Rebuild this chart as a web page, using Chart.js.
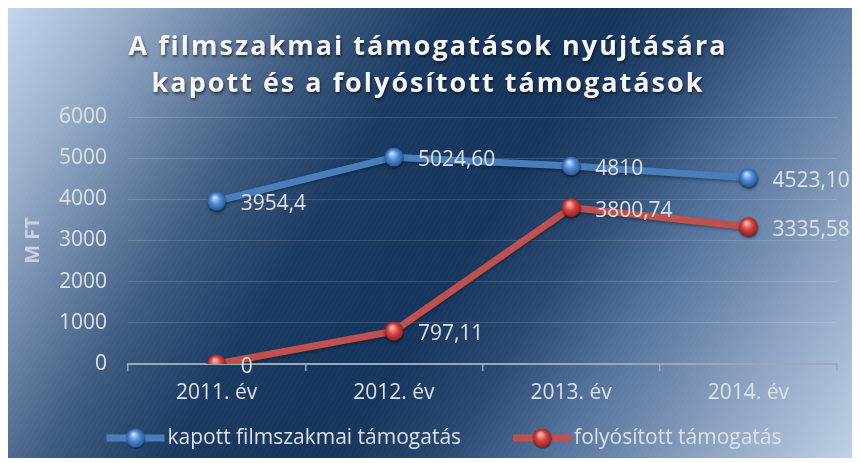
<!DOCTYPE html>
<html>
<head>
<meta charset="utf-8">
<script src="https://cdn.jsdelivr.net/npm/chart.js@4.4.1/dist/chart.umd.min.js"></script>
<style>
html, body { margin: 0; padding: 0; background: #fff; }
</style>
</head>
<body>
<canvas id="myChart" width="860" height="463"></canvas>
<script>
// Chart data
const years = ['2011. év', '2012. év', '2013. év', '2014. év'];
const kapott = [3954.4, 5024.6, 4810, 4523.1];
const folyositott = [0, 797.11, 3800.74, 3335.58];
const kapottLabels = ['3954,4', '5024,60', '4810', '4523,10'];
const folyositottLabels = ['0', '797,11', '3800,74', '3335,58'];
const seriesNames = ['kapott filmszakmai támogatás', 'folyósított támogatás'];
const titleLines = ['A filmszakmai támogatások nyújtására', 'kapott és a folyósított támogatások'];
const yMin = 0, yMax = 6000, yStep = 1000;

const FONT = '"Open Sans", "DejaVu Sans", sans-serif';
const TEXT = '#dde2e9';

// little shiny balls used as point markers
function makeBall(light, mid, dark) {
    const c = document.createElement('canvas');
    c.width = 26; c.height = 26;
    const g = c.getContext('2d');
    g.beginPath();
    g.arc(13.5, 14.5, 9.5, 0, Math.PI * 2);
    g.fillStyle = 'rgba(0,0,0,0.35)';
    g.fill();
    const grad = g.createRadialGradient(11, 9, 0.5, 13, 13, 10);
    grad.addColorStop(0, light);
    grad.addColorStop(0.5, mid);
    grad.addColorStop(1, dark);
    g.beginPath();
    g.arc(13, 13, 9.5, 0, Math.PI * 2);
    g.fillStyle = grad;
    g.fill();
    return c;
}
const blueBall = makeBall('#c9defa', '#4b8ad6', '#24548f');
const redBall = makeBall('#fbc3c1', '#d9423e', '#8a201e');

// background gradient + faint diagonal stripes
const backgroundPlugin = {
    id: 'bg',
    beforeDraw(chart) {
        const ctx = chart.ctx;
        ctx.save();
        ctx.fillStyle = '#ffffff';
        ctx.fillRect(0, 0, chart.width, chart.height);
        const grad = ctx.createLinearGradient(0, 0, 818, 511);
        grad.addColorStop(0, '#c6d9f1');
        grad.addColorStop(0.11, '#9cb2cc');
        grad.addColorStop(0.2, '#6e87a8');
        grad.addColorStop(0.29, '#3e5b80');
        grad.addColorStop(0.4, '#1b3a62');
        grad.addColorStop(0.5, '#17365d');
        grad.addColorStop(0.55, '#17365d');
        grad.addColorStop(0.64, '#2a4870');
        grad.addColorStop(0.73, '#51709a');
        grad.addColorStop(0.86, '#8aa0bf');
        grad.addColorStop(1, '#bdd0e6');
        ctx.fillStyle = grad;
        ctx.fillRect(8, 8, 844, 450);
        ctx.beginPath();
        ctx.rect(8, 8, 844, 450);
        ctx.clip();
        ctx.strokeStyle = 'rgba(255,255,255,0.035)';
        ctx.lineWidth = 1;
        for (let x = -300; x < 900; x += 5) {
            ctx.beginPath();
            ctx.moveTo(x, 463);
            ctx.lineTo(x + 270, 0);
            ctx.stroke();
        }
        ctx.restore();
    }
};

// title with letter spacing and shadow
const titlePlugin = {
    id: 'bigTitle',
    afterDraw(chart) {
        const ctx = chart.ctx;
        ctx.save();
        ctx.font = 'bold 27px ' + FONT;
        ctx.letterSpacing = '2px';
        ctx.textAlign = 'center';
        ctx.textBaseline = 'alphabetic';
        ctx.fillStyle = '#f4f6f9';
        ctx.shadowColor = 'rgba(0,0,0,0.55)';
        ctx.shadowBlur = 3;
        ctx.shadowOffsetX = 1;
        ctx.shadowOffsetY = 2;
        ctx.fillText(titleLines[0], 428, 55);
        ctx.fillText(titleLines[1], 428, 92);
        ctx.restore();
    }
};

// value labels next to the points
const valueLabelPlugin = {
    id: 'valueLabels',
    afterDatasetsDraw(chart) {
        const ctx = chart.ctx;
        const texts = [kapottLabels, folyositottLabels];
        ctx.save();
        ctx.font = '21px ' + FONT;
        ctx.fillStyle = TEXT;
        ctx.textAlign = 'left';
        ctx.textBaseline = 'middle';
        chart.data.datasets.forEach((ds, i) => {
            chart.getDatasetMeta(i).data.forEach((pt, j) => {
                ctx.fillText(texts[i][j], pt.x + 24, pt.y + 3);
            });
        });
        ctx.restore();
    }
};

// line shadow
const shadowPlugin = {
    id: 'lineShadow',
    beforeDatasetsDraw(chart) {
        const ctx = chart.ctx;
        ctx.save();
        ctx.shadowColor = 'rgba(0,0,0,0.3)';
        ctx.shadowBlur = 3;
        ctx.shadowOffsetY = 2;
    },
    afterDatasetsDraw(chart) {
        chart.ctx.restore();
    }
};

// legend at the bottom
const legendPlugin = {
    id: 'customLegend',
    afterDraw(chart) {
        const ctx = chart.ctx;
        const items = [
            { text: seriesNames[0], color: '#4a7ebb', ball: blueBall },
            { text: seriesNames[1], color: '#c0504d', ball: redBall }
        ];
        ctx.save();
        ctx.font = '21px ' + FONT;
        const markW = 58, gapText = 3, gapItem = 52;
        let total = 0;
        items.forEach((it, i) => {
            it.w = ctx.measureText(it.text).width;
            total += markW + gapText + it.w + (i ? 0 : gapItem);
        });
        let x = 444 - total / 2;
        const y = 438;
        items.forEach(it => {
            ctx.strokeStyle = it.color;
            ctx.lineWidth = 7;
            ctx.beginPath();
            ctx.moveTo(x, y);
            ctx.lineTo(x + markW, y);
            ctx.stroke();
            ctx.drawImage(it.ball, x + markW / 2 - 13, y - 13);
            ctx.fillStyle = TEXT;
            ctx.textAlign = 'left';
            ctx.textBaseline = 'middle';
            ctx.fillText(it.text, x + markW + gapText, y);
            x += markW + gapText + it.w + gapItem;
        });
        ctx.restore();
    }
};

function plotGraph() {
    const ctx = document.getElementById('myChart').getContext('2d');

    new Chart(ctx, {
        type: 'line',
        data: {
            labels: years,
            datasets: [{
                label: seriesNames[0],
                data: kapott,
                borderColor: '#4a7ebb',
                borderWidth: 7,
                pointStyle: blueBall,
                pointRadius: 10,
                fill: false,
                tension: 0
            }, {
                label: seriesNames[1],
                data: folyositott,
                borderColor: '#c0504d',
                borderWidth: 7,
                pointStyle: redBall,
                pointRadius: 10,
                fill: false,
                tension: 0
            }]
        },
        options: {
            responsive: false,
            animation: false,
            layout: {
                padding: { top: 117, left: 8, right: 23, bottom: 59 }
            },
            plugins: {
                legend: { display: false },
                title: { display: false },
                tooltip: { enabled: false }
            },
            scales: {
                x: {
                    offset: true,
                    afterFit(scale) { scale.height = 40; },
                    grid: {
                        offset: true,
                        drawOnChartArea: false,
                        drawTicks: true,
                        tickLength: 7,
                        color: '#9aa8b9',
                        lineWidth: 1.5
                    },
                    border: { display: true, color: '#9aa8b9', width: 2 },
                    ticks: {
                        color: TEXT,
                        font: { family: FONT, size: 21 },
                        padding: 9,
                        maxRotation: 0
                    }
                },
                y: {
                    min: yMin,
                    max: yMax,
                    afterFit(scale) { scale.width = 120; },
                    grid: {
                        color: 'rgba(255,255,255,0.14)',
                        drawTicks: false,
                        lineWidth: 1
                    },
                    border: { display: false },
                    ticks: {
                        stepSize: yStep,
                        color: TEXT,
                        font: { family: FONT, size: 21 },
                        padding: 21,
                        callback: v => String(v)
                    },
                    title: {
                        display: true,
                        text: 'M FT',
                        color: '#c9d2dd',
                        font: { family: FONT, size: 20, weight: 'bold' },
                        padding: { top: 13, bottom: 0 }
                    }
                }
            }
        },
        plugins: [backgroundPlugin, shadowPlugin, valueLabelPlugin, legendPlugin, titlePlugin]
    });
}

plotGraph();
</script>
</body>
</html>
